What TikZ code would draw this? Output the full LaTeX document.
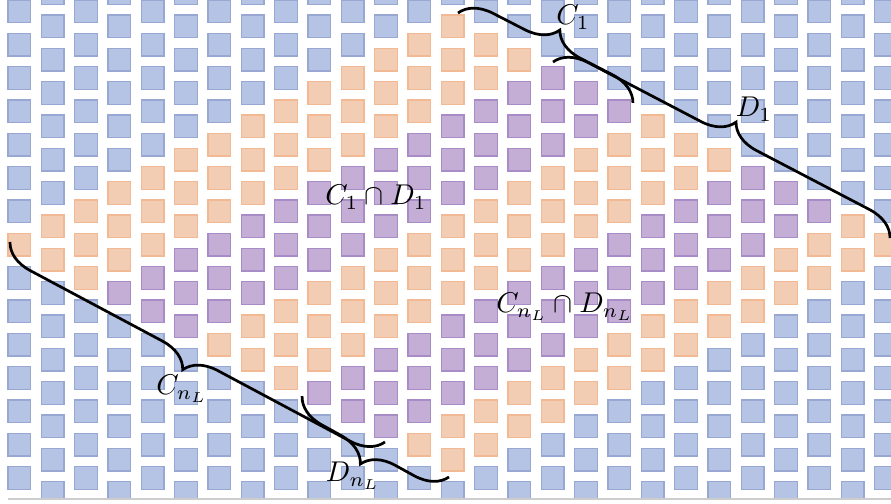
\documentclass[tikz,border=0pt]{standalone}
\usepackage{amsmath}
\usepackage{tikz}
\usetikzlibrary{decorations.pathreplacing}
\definecolor{bluefill}{RGB}{181,196,228}
\definecolor{blueline}{RGB}{152,168,210}
\definecolor{orangefill}{RGB}{243,205,179}
\definecolor{orangeline}{RGB}{241,186,148}
\definecolor{purplefill}{RGB}{196,174,214}
\definecolor{purpleline}{RGB}{168,140,200}
\definecolor{framegray}{RGB}{205,205,205}
\tikzset{
  cell/.style={fill=#1fill, draw=#1line, line width=0.4pt},
  bracket/.style={decorate, decoration={brace, amplitude=11pt}, line width=0.95pt, color=black},
  lbl/.style={anchor=base, inner sep=0pt}
}

\begin{document}
\begin{tikzpicture}[x=0.35pt, y=-0.35pt]
  \useasboundingbox (0,0) rectangle (891,504);

  % Grid of cells (staggered columns), clipped to the frame
  \begin{scope}
    \clip (0,0) rectangle (891,499);
    \foreach \k in {0,...,26}{
      \foreach \j in {-1,...,14}{
        \pgfmathtruncatemacro\vv{2*\j+mod(\k,2)}
        \pgfmathtruncatemacro\aa{\vv+\k}
        \pgfmathtruncatemacro\bb{\vv-\k}
        \pgfmathtruncatemacro\mm{mod(\aa,12)}
        \def\sqcol{blue}
        \ifnum\aa>13 \ifnum\aa<41 \ifnum\bb>-13 \ifnum\bb<15
          \def\sqcol{purple}
          \ifnum\mm>0 \ifnum\mm<7 \def\sqcol{orange}\fi\fi
        \fi\fi\fi\fi
        \pgfmathsetmacro\xx{8+33.333*\k}
        \pgfmathsetmacro\yy{15*mod(\k,2)+33.333*\j}
        \draw[cell/.expanded=\sqcol] (\xx,\yy) rectangle ++(22.7,22.7);
      }
    }
  \end{scope}
  \draw[framegray] (8,499) -- (891,499);

  % Braces along the upper edge
  \coordinate (cs1) at (458,13);
  \coordinate (ce1) at (633,103);
  \coordinate (ds1) at (553,62);
  \coordinate (de1) at (890,238);
  \draw[bracket] (cs1) -- (ce1);
  \draw[bracket] (ds1) -- (de1);
  \node[lbl] (c1) at (573,25) {$C_1$};
  \node[lbl] (d1) at (754,117) {$D_1$};

  % Braces along the lower edge
  \coordinate (csL) at (10,242);
  \coordinate (ceL) at (385,442);
  \coordinate (dsL) at (302,396);
  \coordinate (deL) at (449,477);
  \draw[bracket] (ceL) -- (csL);
  \draw[bracket] (deL) -- (dsL);
  \node[lbl] (cL) at (182,395) {$C_{n_L}$};
  \node[lbl] (dL) at (353,482) {$D_{n_L}$};

  % Intersection labels
  \node[lbl] (cd1) at (376,205) {$C_1\cap D_1$};
  \node[lbl] (cdL) at (565,313) {$C_{n_L}\cap D_{n_L}$};
\end{tikzpicture}
\end{document}
